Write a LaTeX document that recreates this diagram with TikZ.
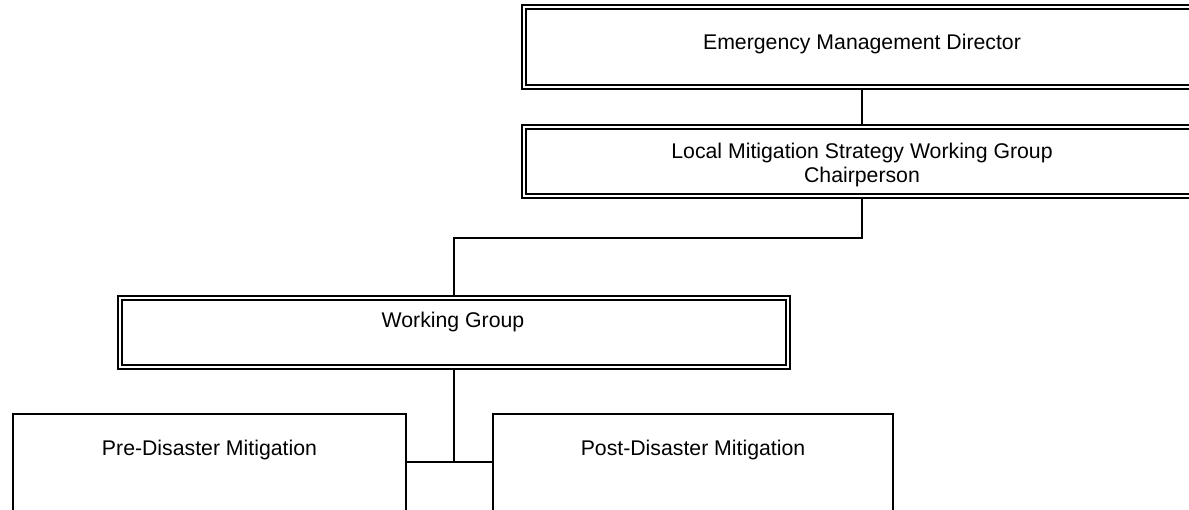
\documentclass[tikz,border=0pt]{standalone}
\usepackage{fontspec}
\setmainfont{Liberation Sans}
\usetikzlibrary{positioning,calc}
\newlength\pxu
\setlength\pxu{0.02cm}
\begin{document}
\begin{tikzpicture}[
    x=0.02cm, y=-0.02cm,
    font=\fontsize{12.1}{13.6pt}\selectfont,
    dbox/.style={rectangle, draw, line width=1.35pt, double=white, double distance=0.75pt, inner sep=0},
    sbox/.style={rectangle, draw, line width=1.6pt, inner sep=0},
    txt/.style={inner sep=0, anchor=base, align=center},
    link/.style={line width=1.3pt}
]
    \useasboundingbox (0,0) rectangle (1189,510);
    \clip (0,0) rectangle (1189,510);

    % boxes
    \node[dbox, minimum width=676\pxu, minimum height=80\pxu] (emd) at (862,47) {};
    \node[dbox, minimum width=676\pxu, minimum height=69\pxu] (lms) at (862,161.5) {};
    \node[dbox, minimum width=668\pxu, minimum height=69\pxu] (wg) at (454,332.5) {};
    \node[sbox, minimum width=393\pxu, minimum height=161\pxu] (pre) at (209.5,494.5) {};
    \node[sbox, minimum width=400\pxu, minimum height=161\pxu] (post) at (693,494.5) {};

    % labels
    \node[txt] (emdtext) at (862,50) {Emergency Management Director};
    \node[txt, anchor=center] (lmstext) at (862,165) {Local Mitigation Strategy Working Group\\Chairperson};
    \node[txt] (wgtext) at (453,327) {Working Group};
    \node[txt] (pretext) at (209.5,455) {Pre-Disaster Mitigation};
    \node[txt] (posttext) at (693,455) {Post-Disaster Mitigation};

    % connectors
    \coordinate (jn) at (454,462);
    \draw[link] (emd) -- (lms);
    \draw[link] (lms.south) -- ++(0,41) -| (wg.north);
    \draw[link] (wg.south) -- (jn);
    \draw[link] (pre.east |- jn) -- (post.west |- jn);
\end{tikzpicture}
\end{document}
